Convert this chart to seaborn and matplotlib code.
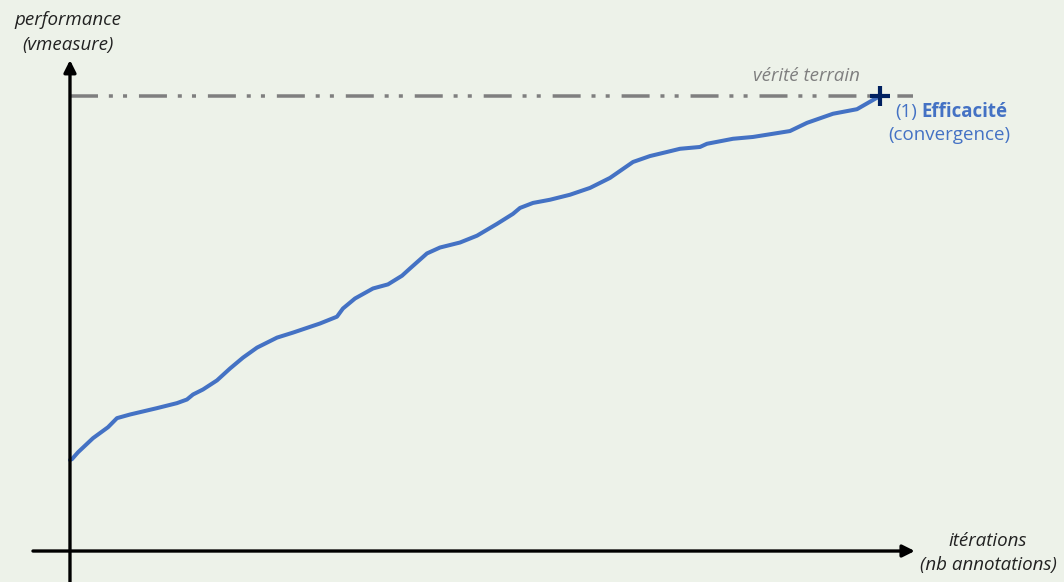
import matplotlib
matplotlib.use("Agg")
import matplotlib.pyplot as plt
import seaborn as sns
import pandas as pd

# Data (iterations in % of annotations, performance relative to ground truth)
iterations = [0, 0.25, 0.99, 2.84, 4.69, 5.80, 7.41, 10.74, 13.21, 14.44, 15.19, 16.42,
              18.15, 19.75, 21.36, 23.09, 25.56, 27.53, 30.86, 32.96, 33.70, 35.19,
              37.41, 39.26, 40.99, 41.98, 44.07, 45.68, 48.15, 50.25, 52.72, 54.69,
              55.56, 57.16, 59.26, 61.73, 64.20, 66.67, 69.51, 71.60, 73.70, 75.31,
              77.78, 78.64, 81.85, 84.32, 86.79, 88.89, 90.99, 94.20, 97.16, 100.0]
performance = [0.200, 0.202, 0.217, 0.248, 0.272, 0.292, 0.300, 0.314, 0.325, 0.333,
               0.344, 0.355, 0.375, 0.401, 0.425, 0.447, 0.469, 0.480, 0.500, 0.515,
               0.533, 0.555, 0.577, 0.586, 0.605, 0.621, 0.654, 0.667, 0.678, 0.693,
               0.719, 0.741, 0.754, 0.765, 0.772, 0.783, 0.798, 0.820, 0.855, 0.868,
               0.877, 0.884, 0.888, 0.895, 0.906, 0.910, 0.917, 0.923, 0.941, 0.961,
               0.971, 1.000]
ground_truth = 1.0
convergence_x = [100.0]
convergence_y = [1.0]

df = pd.DataFrame({"iterations": iterations, "performance": performance})

BG = "#EDF2E9"
BLUE = "#4472C4"
GREY = "#7F7F7F"
NAVY = "#002060"

sns.set_style("white")
plt.rcParams["font.family"] = ["Open Sans", "DejaVu Sans"]

fig = plt.figure(figsize=(10.64, 5.82), dpi=100, facecolor=BG)
ax = fig.add_axes([0, 0, 1, 1])
ax.set_facecolor(BG)
ax.set_xlim(-8.64, 122.72)
ax.set_ylim(-0.0681, 1.211)
ax.axis("off")

# ground truth dash-dot-dot line
ax.plot([0, 104.1], [ground_truth, ground_truth], color=GREY, lw=2.52,
        linestyle=(0, (8, 3.1, 1.15, 2.9, 1.15, 3.4)),
        dash_capstyle="butt", zorder=2)

# performance curve
sns.lineplot(data=df, x="iterations", y="performance", ax=ax, color=BLUE,
             lw=2.9, zorder=3)

# convergence marker
ax.plot(convergence_x, convergence_y, marker="+", color=NAVY, markersize=14,
        mew=3, linestyle="none", zorder=4)

# axes with arrows
ax.annotate("", xy=(0, 1.079), xytext=(0, -0.08),
            arrowprops=dict(arrowstyle="-|>", lw=2.4, color="black",
                            mutation_scale=18, shrinkA=0, shrinkB=0), zorder=5)
ax.annotate("", xy=(104.3, 0), xytext=(-4.57, 0),
            arrowprops=dict(arrowstyle="-|>", lw=2.4, color="black",
                            mutation_scale=18, shrinkA=0, shrinkB=0), zorder=5)

fs = 13.5
ax.text(-0.25, 1.167, "performance", ha="center", va="center", fontsize=fs,
        style="italic", color="#222222")
ax.text(-0.25, 1.112, "(vmeasure)", ha="center", va="center", fontsize=fs,
        style="italic", color="#222222")
ax.text(113.3, 0.022, "itérations", ha="center", va="center", fontsize=fs,
        style="italic", color="#222222")
ax.text(113.4, -0.031, "(nb annotations)", ha="center", va="center", fontsize=fs,
        style="italic", color="#222222")
ax.text(90.9, 1.044, "vérité terrain", ha="center", va="center", fontsize=fs,
        style="italic", color=GREY)
ax.text(104.6, 0.965, "(1)", ha="right", va="center", fontsize=fs, color=BLUE)
ax.text(105.1, 0.965, "Efficacité", ha="left", va="center", fontsize=fs,
        color=BLUE, fontweight="bold")
ax.text(108.6, 0.914, "(convergence)", ha="center", va="center", fontsize=fs,
        color=BLUE)

fig.savefig("out.png", dpi=100, facecolor=BG)
